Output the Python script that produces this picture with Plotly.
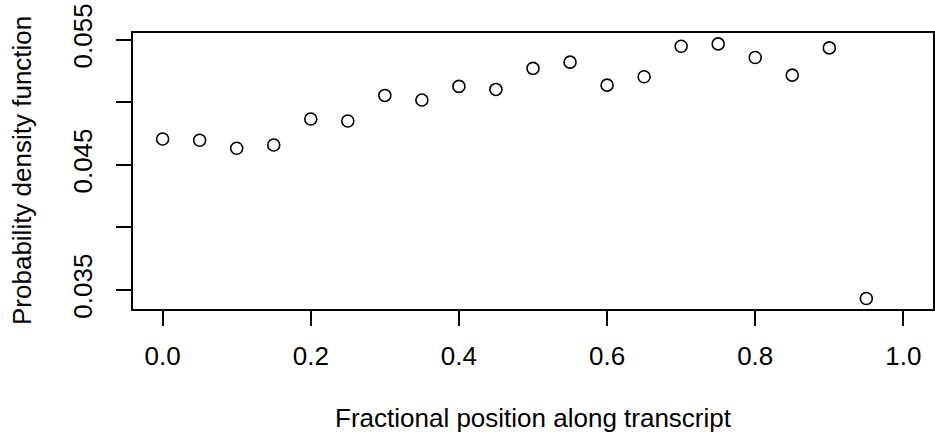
import plotly.graph_objects as go

positions = [0.00, 0.05, 0.10, 0.15, 0.20, 0.25, 0.30, 0.35, 0.40, 0.45,
             0.50, 0.55, 0.60, 0.65, 0.70, 0.75, 0.80, 0.85, 0.90, 0.95]
density = [0.04707, 0.04697, 0.04633, 0.04659, 0.04867, 0.04851, 0.05055, 0.05018,
           0.05127, 0.05103, 0.05271, 0.05321, 0.05137, 0.05204, 0.05448, 0.05467,
           0.05358, 0.05217, 0.05435, 0.03432]

x_ticks = [0.0, 0.2, 0.4, 0.6, 0.8, 1.0]
x_ticktext = ["0.0", "0.2", "0.4", "0.6", "0.8", "1.0"]
y_ticks = [0.035, 0.040, 0.045, 0.050, 0.055]
y_ticktext = ["0.035", "", "0.045", "", "0.055"]

x_title = "Fractional position along transcript"
y_title = "Probability density function"

FONT = "Liberation Sans, Arial, Helvetica, sans-serif"
FS = 26

fig = go.Figure()
fig.add_trace(go.Scatter(
    x=positions, y=density, mode="markers",
    marker=dict(symbol="circle-open", size=12, color="black",
                line=dict(color="black", width=1.6)),
    showlegend=False, hoverinfo="x+y",
))

fig.update_layout(
    width=935, height=439,
    margin=dict(l=133, r=0, t=33, b=130, pad=0),
    paper_bgcolor="white", plot_bgcolor="white",
    font=dict(family=FONT, size=FS, color="black"),
    xaxis=dict(
        range=[-0.04, 1.04], tickvals=x_ticks, ticktext=x_ticktext,
        showgrid=False, zeroline=False,
        showline=True, mirror=True, linecolor="black", linewidth=1.5,
        ticks="outside", ticklen=15, tickwidth=1.5, tickcolor="black",
        tickfont=dict(family=FONT, size=FS, color="black"),
        ticklabelstandoff=8,
    ),
    yaxis=dict(
        range=[0.03348, 0.05554], tickvals=y_ticks, ticktext=y_ticktext,
        showgrid=False, zeroline=False,
        showline=True, mirror=True, linecolor="black", linewidth=1.5,
        ticks="outside", ticklen=15, tickwidth=1.5, tickcolor="black",
        tickangle=-90,
        tickfont=dict(family=FONT, size=FS, color="black"),
        ticklabelstandoff=14,
    ),
    annotations=[
        dict(text=x_title, xref="paper", yref="paper", x=0.5, y=0,
             xanchor="center", yanchor="middle", yshift=-109, showarrow=False,
             font=dict(family=FONT, size=FS, color="black")),
        dict(text=y_title, xref="paper", yref="paper", x=0, y=0.5,
             xanchor="center", yanchor="middle", xshift=-111, textangle=-90,
             showarrow=False, font=dict(family=FONT, size=FS, color="black")),
    ],
)

fig.write_html("out.html")
